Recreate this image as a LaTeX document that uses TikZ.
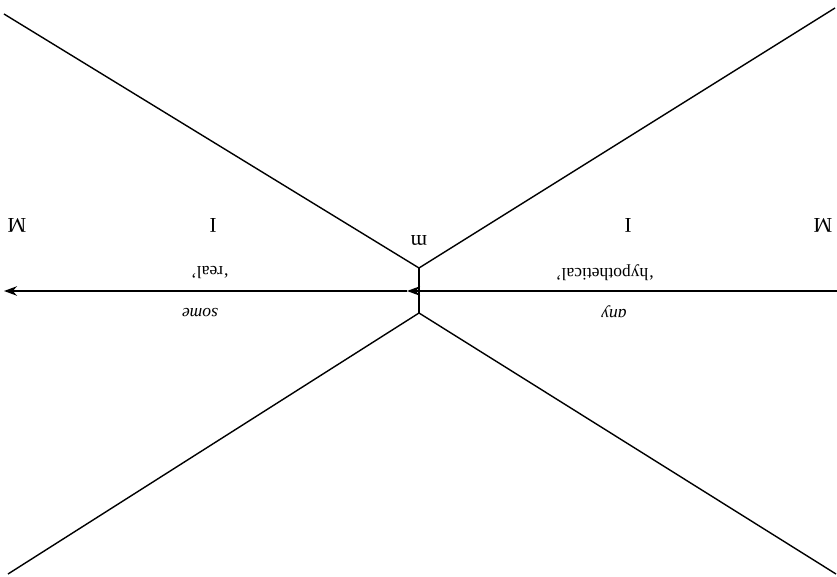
\documentclass[tikz,border=0pt]{standalone}
\usepackage{fontspec}
\setmainfont{Liberation Serif}
\usepackage{tikz}
\usetikzlibrary{arrows.meta}

\begin{document}
\begin{tikzpicture}[x=0.02cm,y=-0.02cm,
  ln/.style={draw=black,line width=0.8pt},
  a/.style={-{Stealth[length=2.6mm,width=1.9mm]},draw=black,line width=0.8pt},
  big/.style={rotate=180,font=\large,inner sep=0pt},
  lab/.style={rotate=180,font=\normalsize,inner sep=0pt}]
\useasboundingbox (0,0) rectangle (837,577);
% junctions and ends
\coordinate (jt) at (419,268);
\coordinate (jb) at (419,313);
\coordinate (tl) at (4,14);
\coordinate (tr) at (835,8);
\coordinate (bl) at (8,574);
\coordinate (br) at (836,574);
\coordinate (ar) at (837,291);
\coordinate (am) at (407,291);
\coordinate (al) at (4,291);
\draw[ln](tl)--(jt)--(tr);
\draw[ln](bl)--(jb)--(br);
\draw[ln](jt)--(jb);
\draw[a](ar)--(am);
\draw[a](am)--(al);
% labels
\node[big](ml) at (17,225){M};
\node[big](il) at (213,225){I};
\node[big](mm) at (419,240){m};
\node[big](ir) at (628,225){I};
\node[big](mr) at (823,225){M};
\node[lab](real) at (210,273){`real'};
\node[lab](hyp) at (605,273){`hypothetical'};
\node[lab,font=\normalsize\itshape](some) at (200,313){some};
\node[lab,font=\normalsize\itshape](any) at (614,312){any};
\end{tikzpicture}
\end{document}
